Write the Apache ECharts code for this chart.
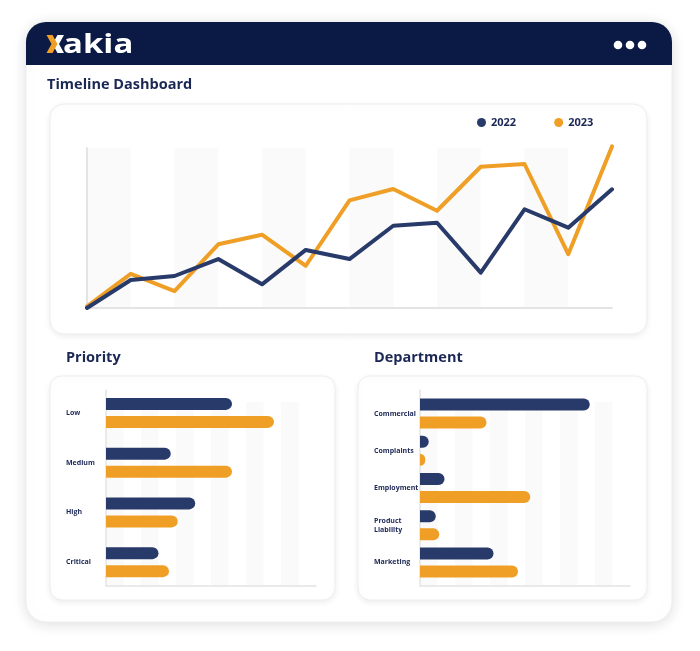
<!DOCTYPE html>
<html>
<head>
<meta charset="utf-8">
<script src="https://cdn.jsdelivr.net/npm/echarts@6/dist/echarts.min.js"></script>
<style>
html,body{margin:0;padding:0;background:#ffffff;}
#chart{width:700px;height:651px;}
</style>
</head>
<body>
<div id="chart"></div>
<script>
// ---- data ----
const timelineCategories = ['T1','T2','T3','T4','T5','T6','T7','T8','T9','T10','T11','T12','T13'];
const timeline2022 = [0, 17.5, 20, 30.6, 14.8, 36.3, 30.6, 51.4, 53.3, 22.1, 61.7, 50.2, 74.2];
const timeline2023 = [1, 21.3, 10.6, 39.8, 45.8, 26.4, 67.3, 74.4, 60.8, 88.3, 90, 33.6, 101];
const seriesNames = ['2022', '2023'];

const priorityCategories = ['Low', 'Medium', 'High', 'Critical'];
const priority2022 = [72, 37, 51, 30];
const priority2023 = [96, 72, 41, 36];

const departmentCategories = ['Commercial', 'Complaints', 'Employment', 'Product\nLiability', 'Marketing'];
const department2022 = [97, 5, 14, 9, 42];
const department2023 = [38, 3, 63, 11, 56];

// ---- style ----
const NAVY = '#283a69';
const ORANGE = '#f09f26';
const HEADER = '#0b1945';
const TEXT = '#1b2755';
const AXIS = '#e4e4e4';
const BAND = '#fafafa';
const FONT = '"Open Sans", sans-serif';

const chart = echarts.init(document.getElementById('chart'), null, {renderer: 'canvas'});

function card(x, y, w, h, r, blur, alpha) {
  return {
    type: 'rect', z: -10,
    shape: {x: x, y: y, width: w, height: h, r: r},
    style: {fill: '#ffffff', stroke: '#eeeeee', lineWidth: 1,
      shadowBlur: blur, shadowColor: 'rgba(0,0,0,' + alpha + ')', shadowOffsetY: 2}
  };
}
function label(text, x, y, size) {
  return {
    type: 'text', z: 100,
    style: {text: text, x: x, y: y, fill: TEXT, font: 'bold ' + size + 'px ' + FONT,
      textVerticalAlign: 'middle', verticalAlign: 'middle'}
  };
}

const bandsAxis = (gi, max, interval) => ({
  type: 'value', gridIndex: gi, min: 0, max: max, interval: interval,
  axisLine: {show: false}, axisTick: {show: false}, axisLabel: {show: false},
  splitLine: {show: false},
  splitArea: {show: true, areaStyle: {color: [BAND, 'rgba(255,255,255,0)']}}
});
const plainAxis = (gi, showLine) => ({
  type: 'value', gridIndex: gi, min: 0, max: 1,
  axisLine: {show: showLine, onZero: false, lineStyle: {color: AXIS, width: 1.5}},
  axisTick: {show: false}, axisLabel: {show: false}, splitLine: {show: false}, splitArea: {show: false}
});
const hiddenAxis = (gi, max) => ({
  type: 'value', gridIndex: gi, min: 0, max: max, show: false,
  splitLine: {show: false}
});
const catAxis = (gi, cats, margin) => ({
  type: 'category', gridIndex: gi, data: cats, inverse: true,
  axisLine: {show: false}, axisTick: {show: false}, splitLine: {show: false},
  axisLabel: {align: 'left', margin: margin, color: TEXT, fontSize: 7, fontWeight: 'bold',
    fontFamily: FONT, lineHeight: 9}
});
const barSeries = (name, xi, yi, data, color) => ({
  name: name, type: 'bar', xAxisIndex: xi, yAxisIndex: yi, data: data,
  barWidth: 12, barGap: '50%',
  itemStyle: {color: color, borderRadius: [0, 6, 6, 0]},
  emphasis: {disabled: true}
});

const option = {
  animation: false,
  backgroundColor: '#ffffff',
  legend: {
    data: seriesNames, left: 472, top: 112, icon: 'circle', itemWidth: 9, itemHeight: 9,
    itemGap: 38,
    textStyle: {color: TEXT, fontSize: 11, fontWeight: 'bold', fontFamily: FONT}
  },
  graphic: {elements: [
    card(26, 22, 646, 600, 20, 14, 0.13),
    {type: 'rect', z: -9, shape: {x: 26, y: 22, width: 646, height: 43, r: [20, 20, 0, 0]},
      style: {fill: HEADER}},
    {type: 'polygon', z: 101, shape: {points: [[64,35],[57.5,35],[52.5,44],[57.5,53],[64,53],[59,44]]},
      style: {fill: '#ffffff'}},
    {type: 'polygon', z: 102, shape: {points: [[46.5,35],[52.5,35],[57.5,44],[52.5,53],[46.5,53],[51.5,44]]},
      style: {fill: ORANGE}},
    {type: 'text', z: 100, scaleX: 1.22, x: 63, y: 0,
      style: {text: 'akia', x: 0, y: 45.5, fill: '#ffffff', font: 'bold 27px ' + FONT,
        textVerticalAlign: 'middle', verticalAlign: 'middle'}},
    {type: 'circle', z: 100, shape: {cx: 618, cy: 45, r: 4.3}, style: {fill: '#ffffff'}},
    {type: 'circle', z: 100, shape: {cx: 630, cy: 45, r: 4.3}, style: {fill: '#ffffff'}},
    {type: 'circle', z: 100, shape: {cx: 642, cy: 45, r: 4.3}, style: {fill: '#ffffff'}},
    label('Timeline Dashboard', 47, 85, 14.5),
    card(50, 104, 597, 230, 14, 6, 0.07),
    label('Priority', 66, 358, 14.5),
    label('Department', 374, 358, 14.5),
    card(50, 376, 285, 224, 12, 6, 0.07),
    card(358, 376, 289, 224, 12, 6, 0.07)
  ]},
  grid: [
    {left: 87, right: 88, top: 148, bottom: 343},   // 0 timeline
    {left: 106, right: 384, top: 390, bottom: 65},  // 1 priority axes
    {left: 106, right: 384, top: 402, bottom: 65},  // 2 priority bands
    {left: 106, right: 384, top: 388, bottom: 64},  // 3 priority bars
    {left: 420, right: 70, top: 390, bottom: 65},   // 4 department axes
    {left: 420, right: 70, top: 402, bottom: 65},   // 5 department bands
    {left: 420, right: 70, top: 395, bottom: 70}    // 6 department bars
  ],
  xAxis: [
    {type: 'category', gridIndex: 0, data: timelineCategories, boundaryGap: false,
      axisLine: {show: true, lineStyle: {color: AXIS, width: 2}}, axisTick: {show: false},
      axisLabel: {show: false}, splitLine: {show: false},
      splitArea: {show: true, areaStyle: {color: [BAND, 'rgba(255,255,255,0)']}}},
    plainAxis(1, true),
    bandsAxis(2, 120, 10),
    hiddenAxis(3, 120),
    plainAxis(4, true),
    bandsAxis(5, 120, 10),
    hiddenAxis(6, 120)
  ],
  yAxis: [
    {type: 'value', gridIndex: 0, min: 0, max: 100,
      axisLine: {show: true, lineStyle: {color: AXIS, width: 2}}, axisTick: {show: false},
      axisLabel: {show: false}, splitLine: {show: false}},
    plainAxis(1, true),
    plainAxis(2, false),
    catAxis(3, priorityCategories, 40),
    plainAxis(4, true),
    plainAxis(5, false),
    catAxis(6, departmentCategories, 46)
  ],
  series: [
    {name: seriesNames[0], type: 'line', xAxisIndex: 0, yAxisIndex: 0, data: timeline2022,
      showSymbol: false, symbol: 'none', clip: false, z: 4, color: NAVY,
      lineStyle: {color: NAVY, width: 4, cap: 'round', join: 'round'}},
    {name: seriesNames[1], type: 'line', xAxisIndex: 0, yAxisIndex: 0, data: timeline2023,
      showSymbol: false, symbol: 'none', clip: false, z: 3, color: ORANGE,
      lineStyle: {color: ORANGE, width: 4, cap: 'round', join: 'round'}},
    barSeries(seriesNames[0], 3, 3, priority2022, NAVY),
    barSeries(seriesNames[1], 3, 3, priority2023, ORANGE),
    barSeries(seriesNames[0], 6, 6, department2022, NAVY),
    barSeries(seriesNames[1], 6, 6, department2023, ORANGE)
  ]
};
chart.setOption(option);
</script>
</body>
</html>
